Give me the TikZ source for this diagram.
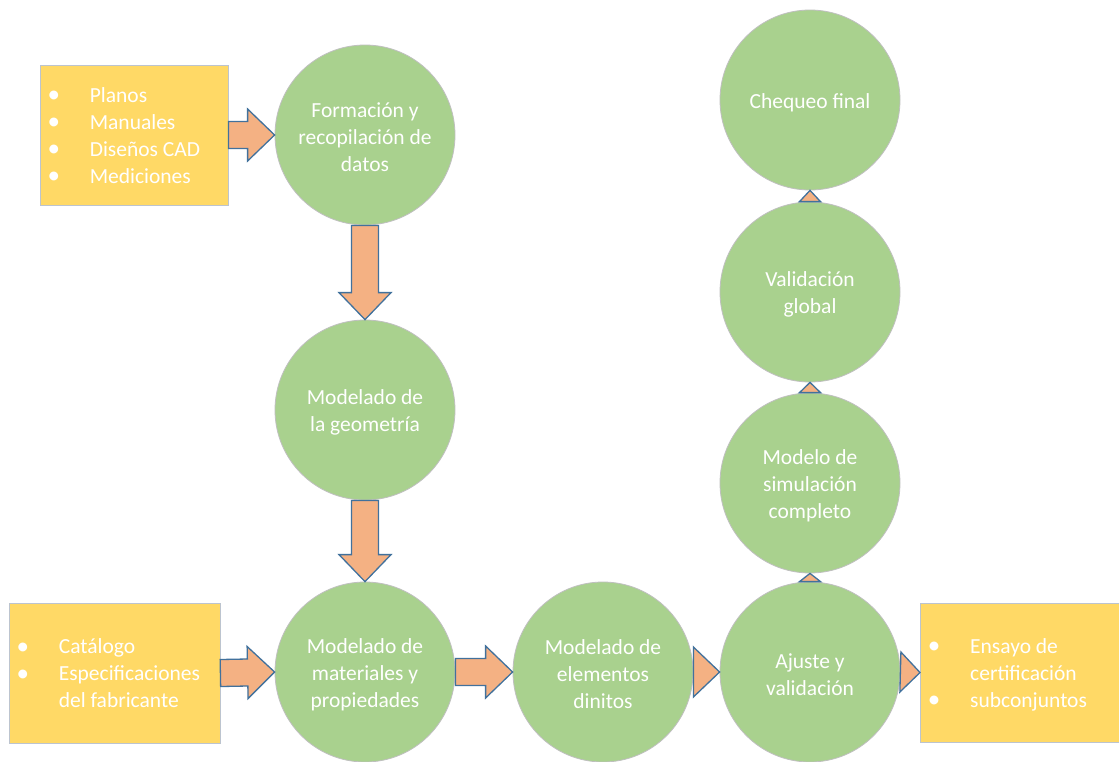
\documentclass[tikz,border=0pt]{standalone}
\usepackage{fontspec}
\setmainfont{Carlito}
\usetikzlibrary{calc}
\definecolor{stepgreen}{HTML}{A9D18E}
\definecolor{boxyellow}{HTML}{FFD966}
\definecolor{arrowfill}{HTML}{F4B183}
\definecolor{arrowline}{HTML}{41719C}
\definecolor{rimgray}{HTML}{BFBFBF}
\definecolor{boxrim}{HTML}{BCC4CF}
\tikzset{
  stage/.style={circle, fill=stepgreen, draw=rimgray, line width=0.8pt,
    minimum size=180pt, inner sep=0pt,
    label={[stagetext]center:#1}},
  stagetext/.style={align=center, text=white, inner sep=0pt, yshift=-2.5pt,
    font=\fontsize{21.5}{27}\selectfont},
  infobox/.style={rectangle, fill=boxyellow, draw=boxrim, line width=0.8pt,
    inner sep=0pt},
  infotext/.style={anchor=west, inner sep=0pt, text=white, yshift=-2.5pt,
    font=\fontsize{21.5}{27}\selectfont},
  barrow/.style={fill=arrowfill, draw=arrowline, line width=1.3pt, line join=miter}
}
% bullet column of the info boxes
\newcommand\bl{\makebox[50pt][l]{\makebox[28pt]{\raisebox{-0.5pt}{\fontsize{25}{27}\selectfont•}}}}
\newcommand\nb{\makebox[50pt][l]{}}
% block arrow from #1 to tip #2
\newcommand\blockarrow[2]{%
  \coordinate (ba-s) at (#1);
  \coordinate (ba-t) at (#2);
  \coordinate (ba-h) at ($(ba-t)!27pt!(ba-s)$);
  \draw[barrow] ($(ba-s)!13.5pt!90:(ba-t)$) -- ($(ba-h)!13.5pt!-90:(ba-s)$)
    -- ($(ba-h)!26pt!-90:(ba-s)$) -- (ba-t) -- ($(ba-h)!26pt!90:(ba-s)$)
    -- ($(ba-h)!13.5pt!90:(ba-s)$) -- ($(ba-s)!13.5pt!-90:(ba-t)$) -- cycle;}
% triangular arrow head with base centred on #1, tip at #2, half width #3
\newcommand\tiparrow[3]{%
  \coordinate (ta-s) at (#1);
  \coordinate (ta-t) at (#2);
  \draw[barrow] ($(ta-s)!#3!90:(ta-t)$) -- (ta-t) -- ($(ta-s)!#3!-90:(ta-t)$) -- cycle;}
\begin{document}
\begin{tikzpicture}[x=1pt, y=-1pt]
\useasboundingbox (0,0) rectangle (1119,761);
\fill[white] (0,0) rectangle (1119,761);

% stages
\node[stage={Formación y\\recopilación de\\datos}] (c1) at (365,135) {};
\node[stage={Modelado de\\la geometría}] (c2) at (365,410) {};
\node[stage={Modelado de\\materiales y\\propiedades}] (c3) at (365,672) {};
\node[stage={Modelado de\\elementos\\dinitos}] (c4) at (603,672) {};
\node[stage={Ajuste y\\validación}] (c5) at (810,672) {};
\node[stage={Modelo de\\simulación\\completo}] (c6) at (810,483) {};
\node[stage={Validación\\global}] (c7) at (810,292) {};
\node[stage={Chequeo final}] (c8) at (810,100) {};

% input / output boxes
\node[infobox, minimum width=188pt, minimum height=140pt] (b1) at (134,135) {};
\node[infotext] (t1) at (b1.west) {\begin{tabular}{@{}l@{}l@{}}
  \bl & Planos\\ \bl & Manuales\\ \bl & Diseños CAD\\ \bl & Mediciones
  \end{tabular}};
\node[infobox, minimum width=211pt, minimum height=140pt] (b2) at (114.5,673) {};
\node[infotext] (t2) at (b2.west) {\begin{tabular}{@{}l@{}l@{}}
  \bl & Catálogo\\ \bl & Especificaciones\\ \nb & del fabricante
  \end{tabular}};
\node[infobox, minimum width=205pt, minimum height=139pt, anchor=west] (b3) at (920,672.5) {};
\node[infotext] (t3) at (b3.west) {\begin{tabular}{@{}l@{}l@{}}
  \bl & Ensayo de\\ \nb & certificación\\ \bl & subconjuntos
  \end{tabular}};

% block arrows
\blockarrow{b1.east}{c1.west}
\blockarrow{c1.south}{c2.north}
\blockarrow{c2.south}{c3.north}
\blockarrow{b2.east}{c3.west}
\blockarrow{c3.east}{c4.west}

% small arrow heads
\tiparrow{c4.east}{c5.west}{25pt}
\tiparrow{c5.east}{b3.west}{20pt}
\tiparrow{c5.north}{c6.south}{10.5pt}
\tiparrow{c6.north}{c7.south}{10.5pt}
\tiparrow{c7.north}{c8.south}{10.5pt}
\end{tikzpicture}
\end{document}
